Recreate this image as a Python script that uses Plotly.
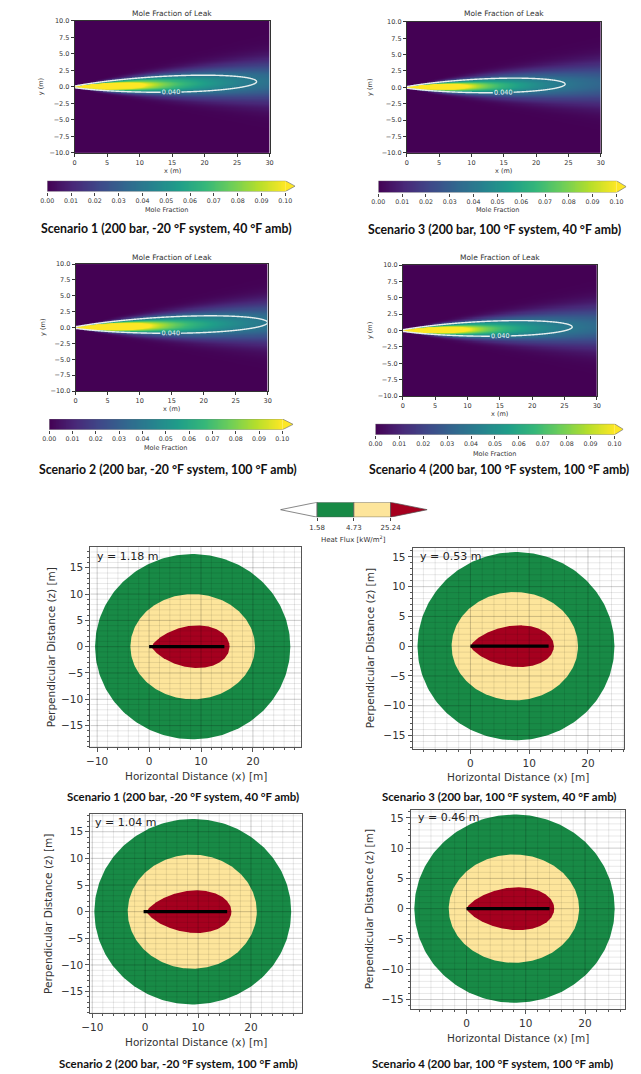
import numpy as np
import plotly.graph_objects as go

W, H = 641, 1074

# ------------------------------------------------------------------ data
scenario_names = [
    "Scenario 1 (200 bar, -20 °F system, 40 °F amb)",
    "Scenario 2 (200 bar, -20 °F system, 100 °F amb)",
    "Scenario 3 (200 bar, 100 °F system, 40 °F amb)",
    "Scenario 4 (200 bar, 100 °F system, 100 °F amb)",
]
# mole-fraction plume (top block), scenarios 1..4
contour_level = 0.04
contour_end_x = [28.0, 30.0, 24.5, 26.2]      # x where the 0.040 contour closes
contour_end_y = [0.8, 0.8, 0.5, 0.55]         # centreline height at that x
plume_spread = [0.072, 0.072, 0.072, 0.072]   # sigma / distance
mole_ticks = [0.00, 0.01, 0.02, 0.03, 0.04, 0.05, 0.06, 0.07, 0.08, 0.09, 0.10]
top_x_ticks = [0, 5, 10, 15, 20, 25, 30]
top_y_ticks = [-10.0, -7.5, -5.0, -2.5, 0.0, 2.5, 5.0, 7.5, 10.0]

# heat flux (bottom block), scenarios 1..4
flux_levels = [1.58, 4.73, 25.24]
flux_colors = ["#ffffff", "#188a46", "#fde59b", "#a5001f"]
flame_height = [1.18, 1.04, 0.53, 0.46]
green_cx = [8.4, 9.0, 7.75, 8.1]
green_rx = [18.8, 18.6, 16.75, 16.9]
green_rz = [17.6, 17.4, 15.8, 15.55]
yellow_cx = [8.4, 8.9, 7.55, 8.0]
yellow_rx = [12.0, 12.2, 10.75, 11.0]
yellow_rz = [10.0, 10.7, 9.1, 8.95]
red_x0 = [0.5, 0.3, 0.0, 0.0]
red_x1 = [15.5, 16.3, 14.2, 14.8]
red_hw = [4.05, 4.0, 3.5, 3.55]
flame_x0 = [0.0, -0.3, 0.0, 0.0]
flame_x1 = [14.5, 15.5, 13.3, 14.0]
flux_x_ticks = [-10, 0, 10, 20]
flux_y_ticks = [-15, -10, -5, 0, 5, 10, 15]

# ------------------------------------------------------------------ layout helpers (pixels)
FONT = "DejaVu Sans"
traces = []
layout = dict(width=W, height=H, margin=dict(l=0, r=0, t=0, b=0),
              paper_bgcolor="white", plot_bgcolor="white", showlegend=False,
              annotations=[], font=dict(family=FONT, color="#333"))


def px(x):
    return x / W


def py(y):
    return 1 - y / H


def add_axes(i, x0, x1, y0, y1, xkw, ykw):
    k = "" if i == 1 else str(i)
    layout["xaxis" + k] = dict(domain=[px(x0), px(x1)], anchor="y" + k, **xkw)
    layout["yaxis" + k] = dict(domain=[py(y1), py(y0)], anchor="x" + k, **ykw)
    return ("x" + k, "y" + k)


def note(text, x, y, size, anchor="center", family=FONT, color="#333", angle=0):
    layout["annotations"].append(dict(text=text, x=px(x), y=py(y), xref="paper", yref="paper",
                                      xanchor=anchor, yanchor="middle", showarrow=False,
                                      textangle=angle, font=dict(size=size, family=family, color=color)))


# ------------------------------------------------------------------ top block
top_panels = {
    0: dict(plot=(67, 266, 17, 150), cb=(39, 282, 292, 178, 189), title=10, xlab=168, ylab=33,
            cbt=208, cap=(161, 226)),
    2: dict(plot=(406, 604, 18, 150), cb=(377, 620, 630, 178, 190), title=10, xlab=168, ylab=369,
            cbt=208, cap=(496, 227)),
    1: dict(plot=(68, 264, 262, 390), cb=(41, 279, 290, 418, 429), title=255, xlab=408, ylab=34,
            cbt=447, cap=(162, 469)),
    3: dict(plot=(402, 600, 263, 395), cb=(374, 618, 627, 423, 434), title=255, xlab=413, ylab=368,
            cbt=453, cap=(500, 469)),
}

gx = np.linspace(0, 30, 301)
gy = np.linspace(-10, 10, 241)
GX, GY = np.meshgrid(gx, gy)

ax_i = 1
frame = dict(showline=True, mirror=True, linecolor="#333", linewidth=0.8, ticks="outside",
             ticklen=3, tickwidth=0.8, tickcolor="#333", showgrid=False, zeroline=False,
             tickfont=dict(size=6.5, family=FONT, color="#333"))
for s in [0, 2, 1, 3]:
    p = top_panels[s]
    x0, x1, y0, y1 = p["plot"]
    xa, ya = add_axes(ax_i, x0, x1, y0, y1,
                      dict(range=[0, 30], tickvals=top_x_ticks, **frame),
                      dict(range=[-10, 10], tickvals=top_y_ticks,
                           ticktext=[f"{v:.1f}".replace("-", "\u2212") for v in top_y_ticks], **frame))
    ax_i += 1
    L = contour_end_x[s]
    xo = 0.5
    cc = contour_level * (L + xo) / (GX + xo)
    sig = plume_spread[s] * (GX + xo)
    yc = contour_end_y[s] * GX / L
    Z = cc * np.exp(-(GY - yc) ** 2 / (2 * sig ** 2))
    traces.append(go.Heatmap(x=gx, y=gy, z=Z, zmin=0, zmax=0.1, colorscale="Viridis",
                             showscale=False, zsmooth="best", xaxis=xa, yaxis=ya, hoverinfo="skip"))
    traces.append(go.Contour(x=gx, y=gy, z=Z, showscale=False, xaxis=xa, yaxis=ya, hoverinfo="skip",
                             contours=dict(start=contour_level, end=contour_level, size=0.01,
                                           coloring="none", showlabels=True, labelformat=".3f",
                                           labelfont=dict(size=6.5, color="#eef4f4", family=FONT)),
                             line=dict(color="#e6eeee", width=1.4)))
    note("Mole Fraction of Leak", (x0 + x1) / 2, p["title"], 7.5)
    note("x (m)", (x0 + x1) / 2, p["xlab"], 6.5)
    note("y (m)", p["ylab"], (y0 + y1) / 2, 6.5, angle=-90)

    # colorbar with extend arrow
    c0, c1, tip, cy0, cy1 = p["cb"]
    arrow = 0.1 * (tip - c1) / (c1 - c0)
    xa, ya = add_axes(ax_i, c0, tip, cy0, cy1,
                      dict(range=[0, 0.1 + arrow], tickvals=mole_ticks,
                           ticktext=[f"{v:.2f}" for v in mole_ticks], ticks="outside", ticklen=3,
                           tickwidth=0.7, tickcolor="#444", showgrid=False, zeroline=False,
                           showline=False, tickfont=dict(size=6.3, family=FONT, color="#333")),
                      dict(range=[0, 1], visible=False))
    ax_i += 1
    cbx = np.linspace(0.1 / 512, 0.1 - 0.1 / 512, 256)
    traces.append(go.Heatmap(x=cbx, y=[0.25, 0.75], z=[cbx, cbx], zmin=0, zmax=0.1,
                             colorscale="Viridis", showscale=False, xaxis=xa, yaxis=ya,
                             hoverinfo="skip"))
    traces.append(go.Scatter(x=[0.1, 0.1 + arrow, 0.1, 0.1], y=[0, 0.5, 1, 0], fill="toself",
                             fillcolor="#fde725", mode="lines", line=dict(width=0),
                             xaxis=xa, yaxis=ya, hoverinfo="skip"))
    traces.append(go.Scatter(x=[0, 0.1, 0.1 + arrow, 0.1, 0, 0], y=[0, 0, 0.5, 1, 1, 0],
                             mode="lines", line=dict(color="#777", width=0.7),
                             xaxis=xa, yaxis=ya, hoverinfo="skip"))
    note("Mole Fraction", (c0 + c1) / 2, p["cbt"], 6.5)
    note("<b>" + scenario_names[s] + "</b>", p["cap"][0], p["cap"][1], 12.3, family="Lato",
         color="#111")

# ------------------------------------------------------------------ heat flux colorbar
xa, ya = add_axes(ax_i, 277, 427, 502, 517,
                  dict(range=[0, 4], tickvals=[1, 2, 3], ticktext=[f"{v:.2f}" for v in flux_levels],
                       ticks="outside", ticklen=3, tickwidth=0.7, tickcolor="#444", showgrid=False,
                       zeroline=False, showline=False,
                       tickfont=dict(size=7, family=FONT, color="#333")),
                  dict(range=[0, 1], visible=False))
ax_i += 1
seg_x = [[0, 1, 1, 0], [1, 2, 2, 1, 1], [2, 3, 3, 2, 2], [3, 4, 3, 3]]
seg_y = [[0.5, 0, 1, 0.5], [0, 0, 1, 1, 0], [0, 0, 1, 1, 0], [0, 0.5, 1, 0]]
for k in range(4):
    traces.append(go.Scatter(x=seg_x[k], y=seg_y[k], fill="toself", fillcolor=flux_colors[k],
                             mode="lines", line=dict(color="#555", width=0.7),
                             xaxis=xa, yaxis=ya, hoverinfo="skip"))
note("Heat Flux [kW/m<sup>2</sup>]", 352, 539, 7)

# ------------------------------------------------------------------ bottom block
bot_panels = {
    0: dict(plot=(83, 298, 547, 749), xr=[-11.32, 29.25], yr=[-19.15, 18.96], lab=(88, 557),
            ylab=43, xlab=778, cap=(178, 798)),
    2: dict(plot=(412, 628, 548, 751), xr=[-9.83, 26.17], yr=[-17.33, 16.5], lab=(417, 557),
            ylab=368, xlab=779, cap=(500, 798)),
    1: dict(plot=(83, 299, 816, 1017), xr=[-10.37, 29.63], yr=[-19.09, 18.34], lab=(86, 825),
            ylab=39, xlab=1046, cap=(173, 1067)),
    3: dict(plot=(410, 629, 812, 1013), xr=[-9.42, 26.78], yr=[-16.64, 16.3], lab=(415, 820),
            ylab=367, xlab=1042, cap=(494, 1067)),
}
bframe = dict(showline=True, mirror=True, linecolor="#555", linewidth=1, ticks="outside",
              ticklen=4, tickwidth=1, tickcolor="#555", showgrid=False, zeroline=False,
              tickfont=dict(size=10.5, family=FONT, color="#333"))
th = np.linspace(0, 2 * np.pi, 240)
tt = np.linspace(0, 1, 200)
for s in [0, 2, 1, 3]:
    p = bot_panels[s]
    x0, x1, y0, y1 = p["plot"]
    xa, ya = add_axes(ax_i, x0, x1, y0, y1,
                      dict(range=p["xr"], tickvals=flux_x_ticks,
                           ticktext=[str(v).replace("-", "\u2212") for v in flux_x_ticks],
                           minor=dict(tickmode="linear", tick0=0, dtick=2, ticks="outside",
                                      ticklen=2, tickcolor="#555", showgrid=False), **bframe),
                      dict(range=p["yr"], tickvals=flux_y_ticks,
                           ticktext=[str(v).replace("-", "\u2212") for v in flux_y_ticks],
                           minor=dict(tickmode="linear", tick0=0, dtick=1, ticks="outside",
                                      ticklen=2, tickcolor="#555", showgrid=False), **bframe))
    ax_i += 1
    # green and yellow zones
    traces.append(go.Scatter(x=green_cx[s] + green_rx[s] * np.cos(th), y=green_rz[s] * np.sin(th),
                             fill="toself", fillcolor=flux_colors[1], mode="lines",
                             line=dict(width=0), xaxis=xa, yaxis=ya, hoverinfo="skip"))
    traces.append(go.Scatter(x=yellow_cx[s] + yellow_rx[s] * np.cos(th),
                             y=yellow_rz[s] * np.sin(th), fill="toself",
                             fillcolor=flux_colors[2], mode="lines", line=dict(width=0),
                             xaxis=xa, yaxis=ya, hoverinfo="skip"))
    # red tear-drop zone
    prof = tt ** 0.72 * np.sqrt(1 - tt)
    prof = prof / prof.max() * red_hw[s]
    rx = red_x0[s] + (red_x1[s] - red_x0[s]) * tt
    traces.append(go.Scatter(x=np.concatenate([rx, rx[::-1]]),
                             y=np.concatenate([prof, -prof[::-1]]), fill="toself",
                             fillcolor=flux_colors[3], mode="lines", line=dict(width=0),
                             xaxis=xa, yaxis=ya, hoverinfo="skip"))
    # grid overlay (drawn over the zones, as in the source)
    mx, Mx = [], []
    for v in np.arange(np.ceil(p["xr"][0] / 2) * 2, p["xr"][1], 2):
        tgt = Mx if v % 10 == 0 else mx
        tgt += [v, v, None]
    for grp, col in ((mx, "rgba(0,0,0,0.09)"), (Mx, "rgba(0,0,0,0.2)")):
        ys = [p["yr"][0], p["yr"][1], None] * (len(grp) // 3)
        traces.append(go.Scatter(x=grp, y=ys, mode="lines", line=dict(color=col, width=1),
                                 xaxis=xa, yaxis=ya, hoverinfo="skip"))
    my, My = [], []
    for v in np.arange(np.ceil(p["yr"][0]), p["yr"][1], 1):
        tgt = My if v % 5 == 0 else my
        tgt += [v, v, None]
    for grp, col in ((my, "rgba(0,0,0,0.09)"), (My, "rgba(0,0,0,0.2)")):
        xs = [p["xr"][0], p["xr"][1], None] * (len(grp) // 3)
        traces.append(go.Scatter(x=xs, y=grp, mode="lines", line=dict(color=col, width=1),
                                 xaxis=xa, yaxis=ya, hoverinfo="skip"))
    # flame centreline
    traces.append(go.Scatter(x=[flame_x0[s], flame_x1[s]], y=[0, 0], mode="lines",
                             line=dict(color="black", width=3.2), xaxis=xa, yaxis=ya,
                             hoverinfo="skip"))
    note(f"y = {flame_height[s]:.2f} m", p["lab"][0], p["lab"][1], 11, anchor="left", color="#222")
    note("Horizontal Distance (x) [m]", (x0 + x1) / 2, p["xlab"], 10.5)
    note("Perpendicular Distance (z) [m]", p["ylab"], (y0 + y1) / 2, 10.5, angle=-90)
    note("<b>" + scenario_names[s] + "</b>", p["cap"][0], p["cap"][1], 11.4, family="Lato",
         color="#111")

fig = go.Figure(data=traces, layout=layout)
fig.write_html("out.html")
